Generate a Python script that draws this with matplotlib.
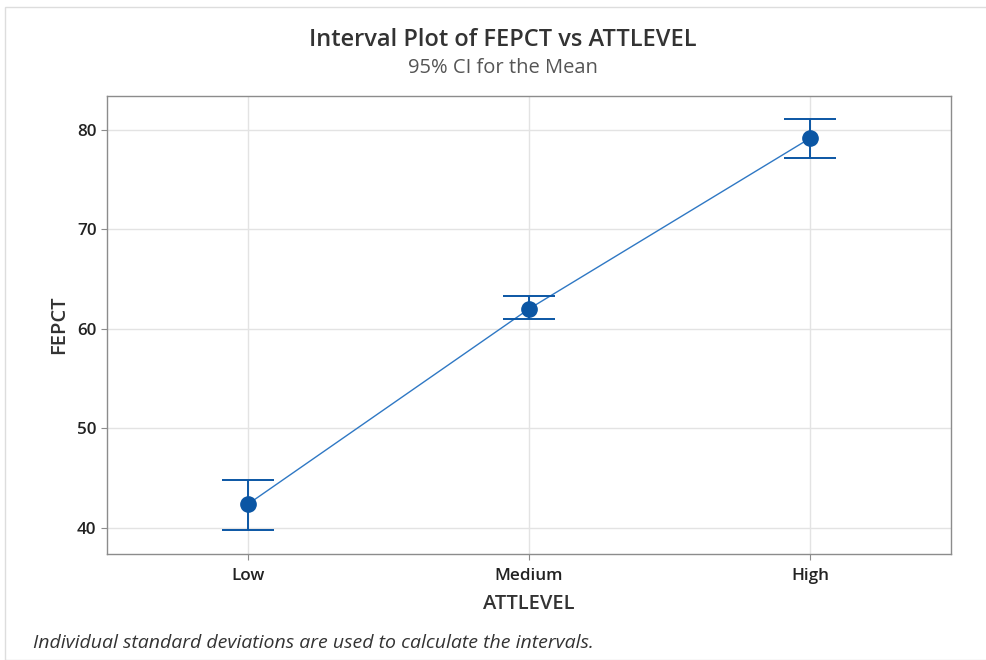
import numpy as np
import matplotlib
matplotlib.use("Agg")
import matplotlib.pyplot as plt
from matplotlib.patches import Rectangle

categories = ["Low", "Medium", "High"]
means = [42.35, 62.0, 79.17]
ci_upper = [44.8, 63.3, 81.08]
ci_lower = [39.8, 60.95, 77.2]
yticks = [40, 50, 60, 70, 80]

plt.rcParams["font.family"] = ["Open Sans", "DejaVu Sans"]

fig = plt.figure(figsize=(9.87, 6.6), dpi=100)
W, H = 987, 660
ax = fig.add_axes([107 / W, 1 - 554 / H, (951 - 107) / W, (554 - 96) / H])

x = np.arange(len(categories))
m = np.array(means)
err = [m - np.array(ci_lower), np.array(ci_upper) - m]

blue = "#0B56A4"
ax.plot(x, m, color="#2F78C4", lw=1.0, zorder=3)
ax.errorbar(x, m, yerr=err, fmt="none", ecolor=blue, elinewidth=1.4,
            capsize=19, capthick=1.4, zorder=4)
ax.plot(x, m, "o", color=blue, ms=11, zorder=5)

ax.set_xlim(-0.5, 2.5)
ax.set_ylim(37.36, 83.4)
ax.set_xticks(x)
ax.set_xticklabels(categories)
ax.set_yticks(yticks)
ax.grid(True, color="#E3E3E3", lw=1.0)
ax.set_axisbelow(True)
for s in ax.spines.values():
    s.set_color("#8C8C8C")
    s.set_linewidth(1.0)
ax.tick_params(axis="both", colors="#8C8C8C", labelcolor="#222222",
               labelsize=12.3, length=4)
ax.tick_params(axis="x", pad=6)
for lab in ax.get_xticklabels() + ax.get_yticklabels():
    lab.set_fontweight("semibold")

ax.set_xlabel("ATTLEVEL", fontsize=14.5, color="#333333", labelpad=7,
              fontweight="semibold")
ax.set_ylabel("FEPCT", fontsize=14.5, color="#333333", labelpad=6,
              fontweight="semibold")

fig.text(503 / W, 1 - 40 / H, "Interval Plot of FEPCT vs ATTLEVEL",
         ha="center", va="center", fontsize=17, color="#333333",
         fontweight="semibold")
fig.text(503 / W, 1 - 68 / H, "95% CI for the Mean",
         ha="center", va="center", fontsize=14.5, color="#555555")
fig.text(33 / W, 1 - 643 / H,
         "Individual standard deviations are used to calculate the intervals.",
         ha="left", va="center", fontsize=14, style="italic", color="#333333")

fig.patches.append(Rectangle((5 / W, 0), 1, 1 - 7 / H, transform=fig.transFigure,
                             fill=False, edgecolor="#DDDDDD", lw=1.0))

fig.savefig("out.png", dpi=100, facecolor="white")
